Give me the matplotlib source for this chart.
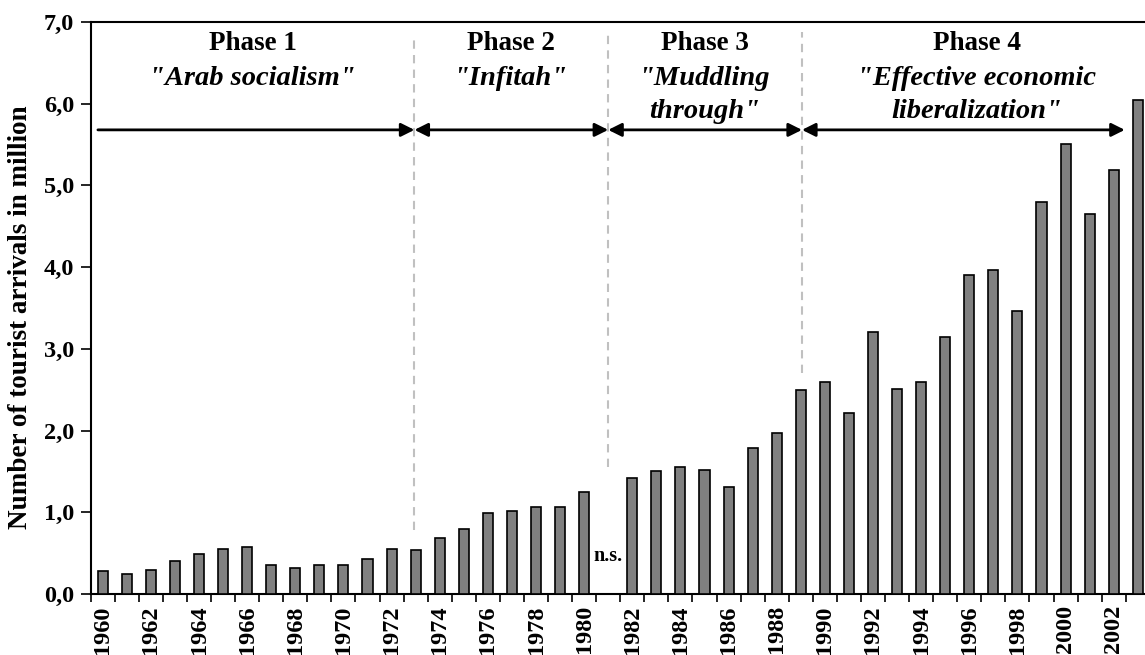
import matplotlib.pyplot as plt
import numpy as np

# Tourist arrivals (million), 1981 not stated
years = list(range(1960, 2004))
arrivals = [0.285, 0.25, 0.29, 0.41, 0.49, 0.55, 0.58, 0.35, 0.32, 0.35,
            0.36, 0.43, 0.55, 0.54, 0.68, 0.80, 0.99, 1.01, 1.06, 1.07,
            1.25, np.nan, 1.42, 1.50, 1.56, 1.52, 1.31, 1.79, 1.97, 2.50,
            2.60, 2.22, 3.21, 2.51, 2.59, 3.14, 3.90, 3.96, 3.46, 4.80,
            5.51, 4.65, 5.19, 6.04]

phase_titles = ['Phase 1', 'Phase 2', 'Phase 3', 'Phase 4']
phase_names = [['"Arab socialism"'], ['"Infitah"'], ['"Muddling', 'through"'],
               ['"Effective economic', 'liberalization"']]
phase_starts = [1959.8, 1972.95, 1981.0, 1989.05]
phase_ends = [1972.95, 1981.0, 1989.05, 2002.46]
phase_label_x = [1966.23, 1976.95, 1985.0, 1996.3]
divider_tops = [6.84, 6.84, 6.88]
divider_bottoms = [0.78, 1.56, 2.71]

plt.rcParams['font.family'] = ['Liberation Serif', 'DejaVu Serif']

fig = plt.figure(figsize=(11.45, 6.55), dpi=100)
ax = fig.add_axes([0.0792, 0.0931, 0.9208, 0.8733])

x = np.arange(len(years))
ax.bar(x, arrivals, width=0.42, color='#808080', edgecolor='black', linewidth=1.2, zorder=3)

ax.set_xlim(-0.5, 43.3)
ax.set_ylim(0, 7)
ax.set_yticks(np.arange(0, 7.5, 1.0))
ax.set_yticklabels([f'{v:.1f}'.replace('.', ',') for v in np.arange(0, 7.5, 1.0)],
                   fontsize=17.5, fontweight='bold')

# tick marks between categories, labels every second year
ax.set_xticks(np.arange(-0.5, 43.5, 1.0))
ax.set_xticklabels([])
ax.set_xticks(x[::2], minor=True)
ax.set_xticklabels([str(y) for y in years[::2]], minor=True, rotation=90,
                   fontsize=17.5, fontweight='bold')
ax.tick_params(axis='x', which='major', length=6, width=1.2, direction='out')
ax.tick_params(axis='x', which='minor', length=0, pad=8)
ax.tick_params(axis='y', length=7, width=1.2, direction='out', pad=5)

ax.spines['right'].set_visible(False)
for s in ['left', 'bottom', 'top']:
    ax.spines[s].set_linewidth(1.5)

ax.set_ylabel('Number of tourist arrivals in million', fontsize=19.5,
              fontweight='bold')
ax.yaxis.set_label_coords(-0.055, 0.483)

def yidx(yr):
    return yr - years[0]

# phase dividers
for xd, top, bot in zip(phase_starts[1:], divider_tops, divider_bottoms):
    ax.plot([yidx(xd), yidx(xd)], [bot, top], color='#c0c0c0', lw=1.5,
            linestyle=(0, (4, 3)), zorder=2)

# phase arrows
arrow_y = 5.68
for i, (a, b) in enumerate(zip(phase_starts, phase_ends)):
    style = '-|>' if i == 0 else '<|-|>'
    ax.annotate('', xy=(yidx(b), arrow_y), xytext=(yidx(a), arrow_y),
                arrowprops=dict(arrowstyle=style, color='black', lw=2,
                                mutation_scale=20, shrinkA=0, shrinkB=0),
                zorder=4)

# phase labels
line_y = [6.31, 5.90]
for px, title, name in zip(phase_label_x, phase_titles, phase_names):
    ax.text(yidx(px), 6.74, title, ha='center', va='center', fontsize=19.5,
            fontweight='bold')
    for ly, line in zip(line_y, name):
        ax.text(yidx(px), ly, line, ha='center', va='center', fontsize=20.5,
                fontweight='bold', style='italic')

ax.text(yidx(1981), 0.47, 'n.s.', ha='center', va='center', fontsize=14.5,
        fontweight='bold')

fig.savefig('out.png', dpi=100)
